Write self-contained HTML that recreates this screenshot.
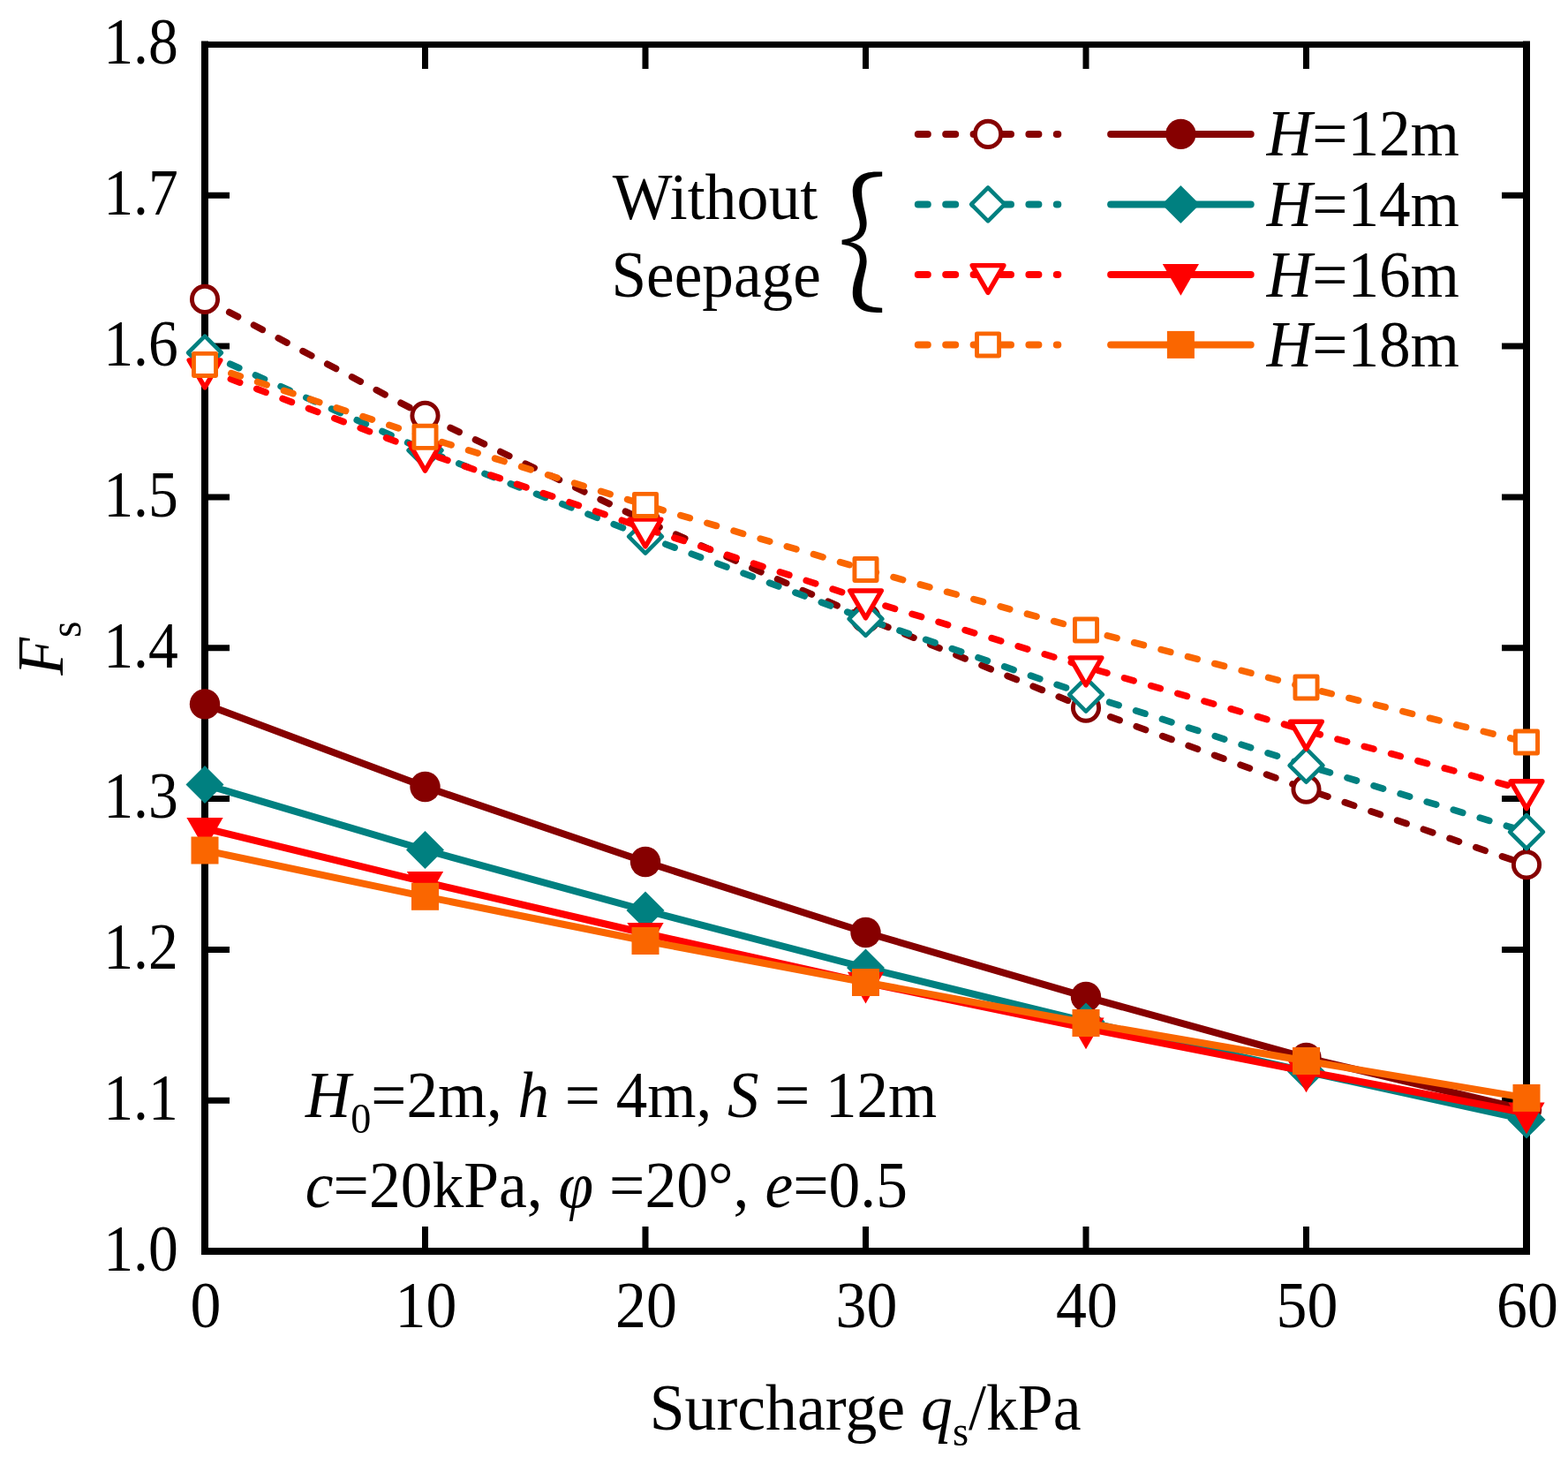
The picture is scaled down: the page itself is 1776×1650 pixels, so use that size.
<!DOCTYPE html>
<html><head><meta charset="utf-8"><title>Fs vs surcharge</title>
<style>html,body{margin:0;padding:0;background:#fff}svg{display:block}</style></head>
<body><svg width="1776" height="1650" viewBox="0 0 1776 1650">
<rect width="1776" height="1650" fill="#fff"/>
<g stroke="#000" fill="none">
<path d="M232.0 46.5V1421M1729.0 46.5V1421" stroke-width="8"/>
<path d="M228 50.5H1733" stroke-width="7"/>
<path d="M228 1417.0H1733" stroke-width="8"/>
<path d="M481.5 1417.0V1389M481.5 50.5V78M731 1417.0V1389M731 50.5V78M980.5 1417.0V1389M980.5 50.5V78M1230 1417.0V1389M1230 50.5V78M1479.5 1417.0V1389M1479.5 50.5V78M232.0 1246.19H260M1729.0 1246.19H1701M232.0 1075.38H260M1729.0 1075.38H1701M232.0 904.56H260M1729.0 904.56H1701M232.0 733.75H260M1729.0 733.75H1701M232.0 562.94H260M1729.0 562.94H1701M232.0 392.12H260M1729.0 392.12H1701M232.0 221.31H260M1729.0 221.31H1701" stroke-width="7"/>
</g>
<g font-family="'Liberation Serif','Times New Roman',serif" font-size="73.5" fill="#000"><text transform="translate(201.84 1438.8) scale(0.9202 1)" text-anchor="end">1.0</text>
<text transform="translate(201.84 1267.99) scale(0.9202 1)" text-anchor="end">1.1</text>
<text transform="translate(201.84 1097.17) scale(0.9202 1)" text-anchor="end">1.2</text>
<text transform="translate(201.84 926.36) scale(0.9202 1)" text-anchor="end">1.3</text>
<text transform="translate(201.84 755.55) scale(0.9202 1)" text-anchor="end">1.4</text>
<text transform="translate(201.84 584.74) scale(0.9202 1)" text-anchor="end">1.5</text>
<text transform="translate(201.84 413.93) scale(0.9202 1)" text-anchor="end">1.6</text>
<text transform="translate(201.84 243.11) scale(0.9202 1)" text-anchor="end">1.7</text>
<text transform="translate(201.84 72.3) scale(0.9202 1)" text-anchor="end">1.8</text>
<text transform="translate(232.9 1502.7) scale(0.95 1)" text-anchor="middle">0</text>
<text transform="translate(482.4 1502.7) scale(0.95 1)" text-anchor="middle">10</text>
<text transform="translate(731.9 1502.7) scale(0.95 1)" text-anchor="middle">20</text>
<text transform="translate(981.4 1502.7) scale(0.95 1)" text-anchor="middle">30</text>
<text transform="translate(1230.9 1502.7) scale(0.95 1)" text-anchor="middle">40</text>
<text transform="translate(1480.4 1502.7) scale(0.95 1)" text-anchor="middle">50</text>
<text transform="translate(1729.9 1502.7) scale(0.95 1)" text-anchor="middle">60</text></g>
<polyline points="232,338.9 481.5,470.8 731,590 980.5,700 1230,801.6 1479.5,893.7 1729,979.3" fill="none" stroke="#860000" stroke-width="7.6" stroke-linecap="round" stroke-linejoin="round" stroke-dasharray="11 20.4"/>
<circle cx="232" cy="338.9" r="14.6" fill="#fff" stroke="#860000" stroke-width="4.9"/>
<circle cx="481.5" cy="470.8" r="14.6" fill="#fff" stroke="#860000" stroke-width="4.9"/>
<circle cx="731" cy="590" r="14.6" fill="#fff" stroke="#860000" stroke-width="4.9"/>
<circle cx="980.5" cy="700" r="14.6" fill="#fff" stroke="#860000" stroke-width="4.9"/>
<circle cx="1230" cy="801.6" r="14.6" fill="#fff" stroke="#860000" stroke-width="4.9"/>
<circle cx="1479.5" cy="893.7" r="14.6" fill="#fff" stroke="#860000" stroke-width="4.9"/>
<circle cx="1729" cy="979.3" r="14.6" fill="#fff" stroke="#860000" stroke-width="4.9"/>
<polyline points="232,399.5 481.5,510 731,607.7 980.5,700.9 1230,786.7 1479.5,866.8 1729,942.1" fill="none" stroke="#008080" stroke-width="7.6" stroke-linecap="round" stroke-linejoin="round" stroke-dasharray="11 20.4"/>
<path d="M232 380.6L250.9 399.5L232 418.4L213.1 399.5Z" fill="#fff" stroke="#008080" stroke-width="4.6" stroke-linejoin="round"/>
<path d="M481.5 491.1L500.4 510L481.5 528.9L462.6 510Z" fill="#fff" stroke="#008080" stroke-width="4.6" stroke-linejoin="round"/>
<path d="M731 588.8L749.9 607.7L731 626.6L712.1 607.7Z" fill="#fff" stroke="#008080" stroke-width="4.6" stroke-linejoin="round"/>
<path d="M980.5 682L999.4 700.9L980.5 719.8L961.6 700.9Z" fill="#fff" stroke="#008080" stroke-width="4.6" stroke-linejoin="round"/>
<path d="M1230 767.8L1248.9 786.7L1230 805.6L1211.1 786.7Z" fill="#fff" stroke="#008080" stroke-width="4.6" stroke-linejoin="round"/>
<path d="M1479.5 847.9L1498.4 866.8L1479.5 885.7L1460.6 866.8Z" fill="#fff" stroke="#008080" stroke-width="4.6" stroke-linejoin="round"/>
<path d="M1729 923.2L1747.9 942.1L1729 961L1710.1 942.1Z" fill="#fff" stroke="#008080" stroke-width="4.6" stroke-linejoin="round"/>
<polyline points="232,418.2 481.5,512.5 731,598.4 980.5,679.3 1230,755.2 1479.5,827.5 1729,895.1" fill="none" stroke="#ff0000" stroke-width="7.6" stroke-linecap="round" stroke-linejoin="round" stroke-dasharray="11 20.4"/>
<path d="M214.16 407.9L249.84 407.9L232 438.8Z" fill="#fff" stroke="#ff0000" stroke-width="5.4" stroke-linejoin="round"/>
<path d="M463.66 502.2L499.34 502.2L481.5 533.1Z" fill="#fff" stroke="#ff0000" stroke-width="5.4" stroke-linejoin="round"/>
<path d="M713.16 588.1L748.84 588.1L731 619Z" fill="#fff" stroke="#ff0000" stroke-width="5.4" stroke-linejoin="round"/>
<path d="M962.66 669L998.34 669L980.5 699.9Z" fill="#fff" stroke="#ff0000" stroke-width="5.4" stroke-linejoin="round"/>
<path d="M1212.16 744.9L1247.84 744.9L1230 775.8Z" fill="#fff" stroke="#ff0000" stroke-width="5.4" stroke-linejoin="round"/>
<path d="M1461.66 817.2L1497.34 817.2L1479.5 848.1Z" fill="#fff" stroke="#ff0000" stroke-width="5.4" stroke-linejoin="round"/>
<path d="M1711.16 884.8L1746.84 884.8L1729 915.7Z" fill="#fff" stroke="#ff0000" stroke-width="5.4" stroke-linejoin="round"/>
<polyline points="232,412.9 481.5,494.8 731,571.9 980.5,645 1230,713.5 1479.5,778.5 1729,840.5" fill="none" stroke="#fa6600" stroke-width="7.6" stroke-linecap="round" stroke-linejoin="round" stroke-dasharray="11 20.4"/>
<rect x="219.45" y="400.35" width="25.1" height="25.1" fill="#fff" stroke="#fa6600" stroke-width="4.9" stroke-linejoin="round"/>
<rect x="468.95" y="482.25" width="25.1" height="25.1" fill="#fff" stroke="#fa6600" stroke-width="4.9" stroke-linejoin="round"/>
<rect x="718.45" y="559.35" width="25.1" height="25.1" fill="#fff" stroke="#fa6600" stroke-width="4.9" stroke-linejoin="round"/>
<rect x="967.95" y="632.45" width="25.1" height="25.1" fill="#fff" stroke="#fa6600" stroke-width="4.9" stroke-linejoin="round"/>
<rect x="1217.45" y="700.95" width="25.1" height="25.1" fill="#fff" stroke="#fa6600" stroke-width="4.9" stroke-linejoin="round"/>
<rect x="1466.95" y="765.95" width="25.1" height="25.1" fill="#fff" stroke="#fa6600" stroke-width="4.9" stroke-linejoin="round"/>
<rect x="1716.45" y="827.95" width="25.1" height="25.1" fill="#fff" stroke="#fa6600" stroke-width="4.9" stroke-linejoin="round"/>
<polyline points="232,797.4 481.5,891 731,976 980.5,1056 1230,1128.9 1479.5,1197.9 1729,1257" fill="none" stroke="#860000" stroke-width="8" stroke-linecap="round" stroke-linejoin="round"/>
<circle cx="232" cy="797.4" r="17.2" fill="#860000"/>
<circle cx="481.5" cy="891" r="17.2" fill="#860000"/>
<circle cx="731" cy="976" r="17.2" fill="#860000"/>
<circle cx="980.5" cy="1056" r="17.2" fill="#860000"/>
<circle cx="1230" cy="1128.9" r="17.2" fill="#860000"/>
<circle cx="1479.5" cy="1197.9" r="17.2" fill="#860000"/>
<circle cx="1729" cy="1257" r="17.2" fill="#860000"/>
<polyline points="232,888.5 481.5,962.5 731,1031 980.5,1096 1230,1157 1479.5,1213.5 1729,1268.1" fill="none" stroke="#008080" stroke-width="8" stroke-linecap="round" stroke-linejoin="round"/>
<path d="M232 867L253.5 888.5L232 910L210.5 888.5Z" fill="#008080"/>
<path d="M481.5 941L503 962.5L481.5 984L460 962.5Z" fill="#008080"/>
<path d="M731 1009.5L752.5 1031L731 1052.5L709.5 1031Z" fill="#008080"/>
<path d="M980.5 1074.5L1002 1096L980.5 1117.5L959 1096Z" fill="#008080"/>
<path d="M1230 1135.5L1251.5 1157L1230 1178.5L1208.5 1157Z" fill="#008080"/>
<path d="M1479.5 1192L1501 1213.5L1479.5 1235L1458 1213.5Z" fill="#008080"/>
<path d="M1729 1246.6L1750.5 1268.1L1729 1289.6L1707.5 1268.1Z" fill="#008080"/>
<polyline points="232,938 481.5,998.9 731,1057 980.5,1112.6 1230,1164.4 1479.5,1213.4 1729,1260.5" fill="none" stroke="#ff0000" stroke-width="8" stroke-linecap="round" stroke-linejoin="round"/>
<path d="M211.39 926.1L252.61 926.1L232 961.8Z" fill="#ff0000"/>
<path d="M460.89 987L502.11 987L481.5 1022.7Z" fill="#ff0000"/>
<path d="M710.39 1045.1L751.61 1045.1L731 1080.8Z" fill="#ff0000"/>
<path d="M959.89 1100.7L1001.11 1100.7L980.5 1136.4Z" fill="#ff0000"/>
<path d="M1209.39 1152.5L1250.61 1152.5L1230 1188.2Z" fill="#ff0000"/>
<path d="M1458.89 1201.5L1500.11 1201.5L1479.5 1237.2Z" fill="#ff0000"/>
<path d="M1708.39 1248.6L1749.61 1248.6L1729 1284.3Z" fill="#ff0000"/>
<polyline points="232,963 481.5,1015.3 731,1065.5 980.5,1112.5 1230,1158.5 1479.5,1201.5 1729,1243.4" fill="none" stroke="#fa6600" stroke-width="8" stroke-linecap="round" stroke-linejoin="round"/>
<rect x="216.5" y="947.5" width="31" height="31" fill="#fa6600"/>
<rect x="466" y="999.8" width="31" height="31" fill="#fa6600"/>
<rect x="715.5" y="1050" width="31" height="31" fill="#fa6600"/>
<rect x="965" y="1097" width="31" height="31" fill="#fa6600"/>
<rect x="1214.5" y="1143" width="31" height="31" fill="#fa6600"/>
<rect x="1464" y="1186" width="31" height="31" fill="#fa6600"/>
<rect x="1713.5" y="1227.9" width="31" height="31" fill="#fa6600"/>
<path d="M1039.8 151.9H1198.3" stroke="#860000" stroke-width="8" stroke-linecap="round" stroke-dasharray="11 20.4"/>
<circle cx="1119.05" cy="151.9" r="14.6" fill="#fff" stroke="#860000" stroke-width="4.9"/>
<path d="M1258.1 151.9H1416.7" stroke="#860000" stroke-width="8" stroke-linecap="round"/>
<circle cx="1337.4" cy="151.9" r="17.2" fill="#860000"/>
<path d="M1039.8 231.4H1198.3" stroke="#008080" stroke-width="8" stroke-linecap="round" stroke-dasharray="11 20.4"/>
<path d="M1119.05 212.5L1137.95 231.4L1119.05 250.3L1100.15 231.4Z" fill="#fff" stroke="#008080" stroke-width="4.6" stroke-linejoin="round"/>
<path d="M1258.1 231.4H1416.7" stroke="#008080" stroke-width="8" stroke-linecap="round"/>
<path d="M1337.4 209.9L1358.9 231.4L1337.4 252.9L1315.9 231.4Z" fill="#008080"/>
<path d="M1039.8 310.9H1198.3" stroke="#ff0000" stroke-width="8" stroke-linecap="round" stroke-dasharray="11 20.4"/>
<path d="M1101.21 300.6L1136.89 300.6L1119.05 331.5Z" fill="#fff" stroke="#ff0000" stroke-width="5.4" stroke-linejoin="round"/>
<path d="M1258.1 310.9H1416.7" stroke="#ff0000" stroke-width="8" stroke-linecap="round"/>
<path d="M1316.79 299L1358.01 299L1337.4 334.7Z" fill="#ff0000"/>
<path d="M1039.8 390.4H1198.3" stroke="#fa6600" stroke-width="8" stroke-linecap="round" stroke-dasharray="11 20.4"/>
<rect x="1106.5" y="377.85" width="25.1" height="25.1" fill="#fff" stroke="#fa6600" stroke-width="4.9" stroke-linejoin="round"/>
<path d="M1258.1 390.4H1416.7" stroke="#fa6600" stroke-width="8" stroke-linecap="round"/>
<rect x="1321.9" y="374.9" width="31" height="31" fill="#fa6600"/>
<g font-family="'Liberation Serif','Times New Roman',serif" fill="#000"><text transform="translate(693.80 248.00) scale(0.9732 1)" font-size="73.8">Without</text>
<text transform="translate(692.47 335.70) scale(0.9653 1)" font-size="73.8">Seepage</text>
<text transform="translate(946.90 324.84) scale(1.5258 1.6800)" font-size="100" font-family="'Noto Serif CJK SC',serif" font-weight="400">{</text>
<text transform="translate(1434.77 175.90) scale(0.9655 1)" font-size="73.8"><tspan font-style="italic">H</tspan>=12m</text>
<text transform="translate(1434.77 255.70) scale(0.9655 1)" font-size="73.8"><tspan font-style="italic">H</tspan>=14m</text>
<text transform="translate(1434.77 335.90) scale(0.9655 1)" font-size="73.8"><tspan font-style="italic">H</tspan>=16m</text>
<text transform="translate(1434.77 414.70) scale(0.9655 1)" font-size="73.8"><tspan font-style="italic">H</tspan>=18m</text>
<text transform="translate(345.96 1265.20) scale(0.9624 1)" font-size="73.8"><tspan font-style="italic">H</tspan><tspan font-size="48" dy="18">0</tspan><tspan dy="-18">=2m, </tspan><tspan font-style="italic">h</tspan> = 4m, <tspan font-style="italic">S</tspan> = 12m</text>
<text transform="translate(345.76 1367.00) scale(0.9698 1)" font-size="73.8"><tspan font-style="italic">c</tspan>=20kPa, <tspan font-style="italic">φ</tspan> =20°, <tspan font-style="italic">e</tspan>=0.5</text>
<text transform="translate(735.64 1618.60) scale(0.9720 1)" font-size="73.8">Surcharge <tspan font-style="italic">q</tspan><tspan font-size="48" dy="18.4">s</tspan><tspan dy="-18.4">/kPa</tspan></text>
<text transform="translate(70.90 764.75) rotate(-90) scale(0.9484 1)" font-size="73.8"><tspan font-style="italic">F</tspan><tspan font-size="50" dy="20.4">s</tspan></text></g>
</svg></body></html>
